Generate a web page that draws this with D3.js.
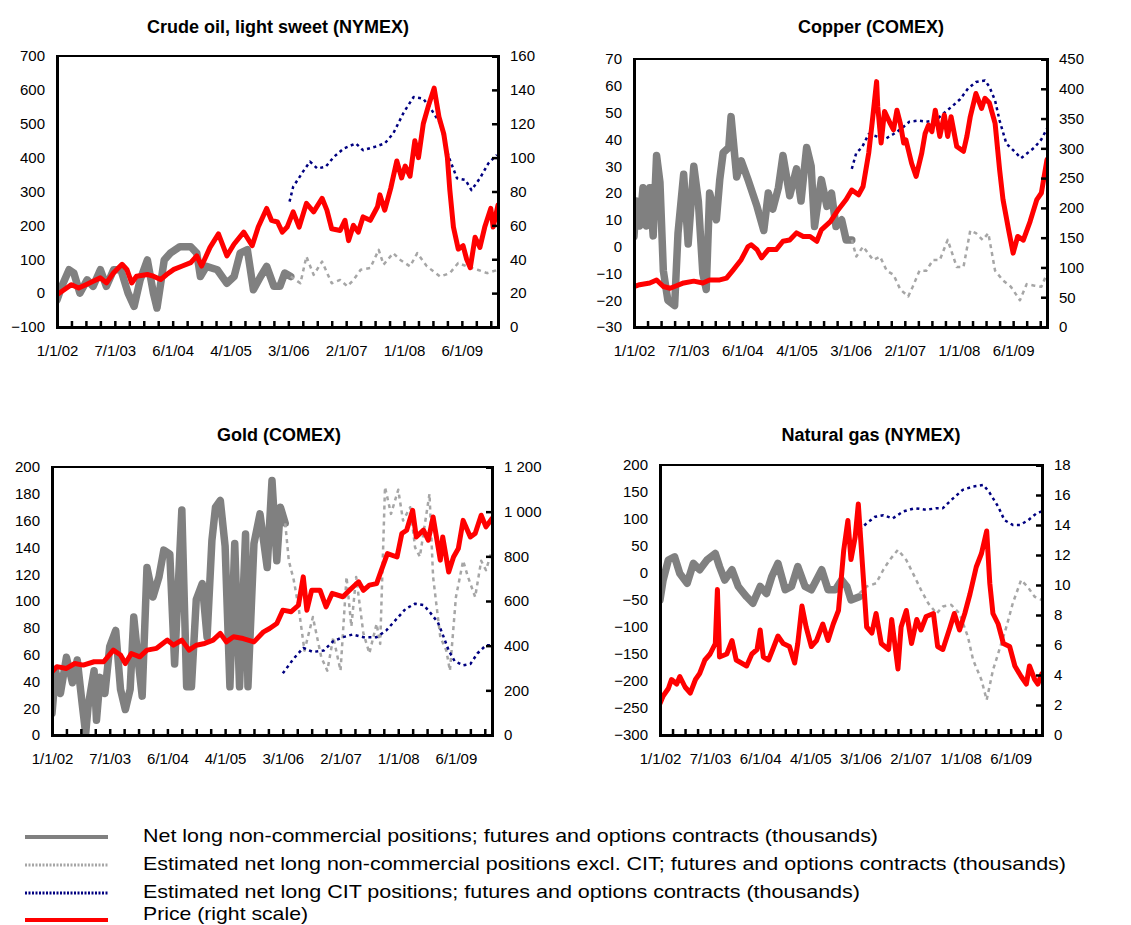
<!DOCTYPE html>
<html>
<head>
<meta charset="utf-8">
<script src="https://cdn.jsdelivr.net/npm/d3@7/dist/d3.min.js"></script>
<style>
  body { margin: 0; background: #fff; }
  text { font-family: "Liberation Sans", Arial, sans-serif; fill: #000; }
</style>
</head>
<body>
<svg id="chart" width="1131" height="925"></svg>
<script>
// Category axis: weekly observations, labelled every 48th observation
const dateLabels = ['1/1/02', '7/1/03', '6/1/04', '4/1/05', '3/1/06', '2/1/07', '1/1/08', '6/1/09'];
const obsCount = 366;

// Each series: [observation index, value]
// Crude oil, light sweet (NYMEX)
const crudeNet = [[0,-20],[4,20],[10,69],[14,59],[19,0],[25,39],[30,20],[36,69],[41,20],[47,69],[53,69],[59,0],[64,-39],[69,39],[75,98],[80,0],[83,-44],[89,98],[94,118],[102,137],[111,137],[116,118],[119,49],[124,79],[133,69],[141,29],[147,49],[152,118],[158,128],[163,10],[169,49],[174,79],[180,20],[185,20],[189,59],[194,49]];
const crudeExcl = [[194,49],[202,29],[207,108],[213,54],[220,93],[228,29],[235,39],[241,20],[246,39],[252,69],[260,74],[267,128],[271,84],[279,118],[285,98],[293,79],[299,118],[307,79],[318,49],[326,59],[333,89],[340,79],[349,69],[357,59],[366,69]];
const crudeCit = [[193,270],[196,314],[205,363],[210,388],[216,368],[223,373],[230,403],[238,427],[248,442],[254,422],[264,432],[272,442],[279,471],[288,535],[296,579],[304,574],[311,540],[318,501],[325,403],[332,339],[339,334],[344,304],[351,339],[358,383],[365,408]];
const crudePrice = [[0,19],[8,23],[12,25],[18,23],[24,25],[30,27],[36,29],[41,26],[47,32],[54,37],[58,34],[62,26],[66,30],[75,31],[80,30],[86,28],[91,31],[97,34],[104,36],[111,38],[116,42],[120,36],[127,47],[134,55],[141,42],[147,49],[155,56],[162,48],[167,59],[174,70],[178,63],[183,62],[187,56],[191,59],[196,68],[201,59],[207,73],[213,68],[220,76],[224,69],[228,58],[235,57],[239,63],[242,51],[246,60],[250,56],[254,65],[260,63],[266,71],[268,78],[272,69],[277,82],[282,98],[286,88],[289,95],[293,89],[297,110],[300,100],[304,120],[308,130],[313,141],[317,124],[321,114],[324,100],[326,81],[329,59],[333,46],[337,48],[340,40],[343,35],[347,53],[351,47],[355,59],[360,70],[362,59],[366,72]];

// Copper (COMEX)
const copperNet = [[0,3.8],[2,17],[5,7.7],[8,22],[11,7.7],[14,22],[17,4],[20,34],[23,24],[26,-9],[30,-20],[36,-22],[39,5],[44,27],[48,1],[53,30],[57,17],[61,-10],[64,-16],[67,20],[73,10],[76,25],[79,35],[84,37],[86,48.5],[91,26],[95,32],[101,25],[109,15],[115,6],[119,20],[123,14],[128,22],[132,34],[138,19],[144,29],[148,17],[153,37],[157,30],[160,7.5],[166,25],[171,15],[175,20],[179,7.5],[184,10],[188,2.5],[193,2.5]];
const copperExcl = [[193,2.5],[197,-3.7],[203,0],[212,-5],[218,-3.7],[224,-9],[230,-10.5],[236,-16],[243,-18.6],[247,-15],[253,-9],[259,-9],[265,-5],[271,-5],[278,2.5],[286,-7.6],[292,-7.6],[298,6],[303,5],[309,2.5],[314,5],[320,-9],[327,-12.6],[334,-15],[342,-20],[348,-14],[355,-14.6],[361,-15],[366,-10]];
const copperCit = [[193,29],[197,35],[202,37],[208,42],[216,41],[222,40],[230,42],[237,44],[244,46.6],[252,47],[259,46.6],[267,47],[274,49.6],[281,52],[289,55],[296,59],[303,61.4],[311,62],[315,59.6],[320,54.5],[324,47],[330,38.4],[336,36],[343,33],[349,35],[355,37],[361,40],[366,44]];
const copperPrice = [[0,68],[5,71],[14,74],[20,79],[26,68],[32,65],[36,68],[44,74],[53,77],[61,74],[67,79],[76,79],[82,82],[88,96],[95,113],[101,135],[104,138],[109,130],[113,116],[119,130],[126,130],[132,144],[138,146],[144,158],[150,152],[156,152],[162,144],[166,163],[174,177],[181,197],[188,214],[193,230],[199,222],[203,236],[208,292],[211,342],[215,412],[216,370],[219,309],[222,362],[227,342],[230,331],[233,364],[236,342],[239,309],[241,314],[246,275],[250,253],[255,292],[258,325],[261,339],[264,328],[267,364],[271,320],[275,356],[278,320],[281,353],[286,303],[292,295],[295,320],[298,353],[303,392],[308,367],[311,384],[315,376],[320,342],[324,264],[327,214],[332,163],[336,124],[340,152],[345,146],[351,177],[357,214],[361,225],[366,281]];

// Gold (COMEX)
const goldNet = [[0,16],[3,48],[7,31],[12,58],[17,39],[21,56],[25,24],[28,1],[30,21],[35,48],[37,11],[40,43],[44,31],[48,66],[53,78],[57,34],[61,19],[65,34],[68,88],[72,53],[75,29],[79,125],[84,103],[89,118],[93,138],[98,135],[102,53],[108,168],[112,36],[116,36],[120,101],[125,113],[129,73],[133,145],[136,170],[140,175],[144,141],[148,36],[152,143],[156,36],[161,150],[163,36],[168,143],[173,165],[179,125],[183,190],[187,130],[190,170],[194,158]];
const goldExcl = [[194,158],[197,130],[201,116],[205,96],[210,63],[217,88],[224,58],[229,48],[234,73],[240,48],[245,118],[249,81],[253,118],[259,76],[264,61],[270,83],[273,68],[277,185],[282,165],[288,183],[292,160],[298,170],[302,140],[306,133],[314,180],[317,118],[323,73],[328,63],[331,48],[336,103],[342,130],[346,118],[352,103],[357,130],[361,123],[366,138]];
const goldCit = [[192,46],[201,57],[209,65],[217,62],[226,63],[234,70],[242,73],[250,75],[259,73],[270,73],[278,78],[287,87],[294,94],[302,98],[309,97],[314,92],[321,84],[325,75],[330,63],[335,55],[342,52],[348,53],[354,61],[361,67],[366,67]];
const goldPrice = [[0,283],[4,306],[12,298],[19,320],[26,313],[35,328],[43,328],[51,380],[57,358],[61,320],[66,365],[73,350],[79,380],[87,388],[96,425],[101,402],[108,425],[114,380],[120,402],[127,410],[134,425],[140,455],[145,417],[151,440],[159,432],[168,417],[176,462],[181,477],[187,499],[192,559],[199,552],[205,581],[209,708],[212,559],[216,648],[223,648],[228,574],[233,634],[242,619],[249,656],[255,686],[259,648],[264,671],[270,678],[274,738],[279,812],[287,797],[291,902],[295,917],[300,1006],[303,887],[309,917],[313,872],[317,976],[323,783],[325,887],[330,730],[334,797],[338,835],[342,961],[348,887],[352,902],[357,984],[361,932],[366,969]];

// Natural gas (NYMEX)
const gasNet = [[0,-50],[3,-13],[8,24],[14,30],[19,-1],[26,-19],[32,18],[38,6],[45,24],[53,36],[57,12],[62,-13],[69,6],[75,-25],[83,-44],[89,-56],[96,-25],[102,-38],[107,-7],[113,18],[120,-31],[126,-25],[132,12],[139,-25],[145,-31],[155,6],[161,-31],[168,-31],[174,-13],[179,-25],[183,-50],[191,-44]];
const gasExcl = [[191,-38],[198,-25],[207,-19],[214,6],[220,24],[228,43],[236,24],[244,-7],[250,-31],[257,-56],[265,-75],[271,-62],[279,-59],[287,-75],[295,-118],[300,-161],[308,-198],[313,-235],[319,-180],[325,-143],[332,-99],[338,-56],[346,-13],[352,-25],[359,-44],[366,-50]];
const gasCit = [[191,80],[198,92],[206,104],[214,107],[223,101],[233,114],[244,120],[255,117],[265,120],[271,120],[279,135],[290,154],[300,160],[310,163],[316,148],[324,123],[330,98],[338,89],[345,89],[353,98],[361,111],[366,114]];
const gasPrice = [[0,2.1],[3,2.6],[8,3.1],[11,3.7],[16,3.4],[19,3.9],[24,3.2],[29,2.8],[34,3.7],[38,4.1],[43,5.0],[48,5.4],[53,6.1],[55,9.7],[57,5.2],[64,5.4],[69,6.3],[73,5.0],[78,4.8],[83,4.6],[88,5.4],[93,5.7],[96,7.0],[99,5.2],[104,5.0],[108,5.7],[113,6.6],[118,6.1],[124,5.9],[129,4.8],[132,6.1],[136,8.6],[140,7.2],[145,5.9],[150,6.3],[156,7.4],[161,6.3],[166,7.4],[171,8.3],[176,12.3],[180,14.3],[183,11.7],[187,13.2],[190,15.4],[195,10.3],[198,7.2],[203,6.8],[207,8.1],[212,6.1],[219,5.7],[222,7.7],[228,4.4],[231,7.2],[236,8.3],[241,6.1],[246,7.7],[250,7.0],[255,7.9],[262,8.1],[266,5.9],[271,5.7],[278,7.2],[282,8.1],[287,7.0],[292,8.1],[297,9.4],[303,11.2],[308,12.1],[313,13.6],[316,10.1],[319,8.1],[324,7.4],[329,6.1],[335,5.9],[340,4.6],[346,3.9],[351,3.4],[354,4.6],[359,3.7],[362,3.4],[366,4.1]];

const legendLabels = [
  'Net long non-commercial positions; futures and options contracts (thousands)',
  'Estimated net long non-commercial positions excl. CIT; futures and options contracts (thousands)',
  'Estimated net long CIT positions; futures and options contracts (thousands)',
  'Price (right scale)'
];

// Line styles for the four series
const styles = {
  net:   { stroke: '#808080', width: 7.5, dash: null },
  excl:  { stroke: '#a6a6a6', width: 2.5, dash: '4,4' },
  cit:   { stroke: '#000080', width: 2.5, dash: '3,3.5' },
  price: { stroke: '#ff0000', width: 5,   dash: null }
};

const spaceThousands = v => {
  const s = String(v);
  return s.length > 3 ? s.slice(0, s.length - 3) + '\u00a0' + s.slice(-3) : s;
};

const panels = [
  { title: 'Crude oil, light sweet (NYMEX)', series: { net: crudeNet, excl: crudeExcl, cit: crudeCit, price: crudePrice },
    leftTicks: d3.range(-100, 701, 100), rightTicks: d3.range(0, 161, 20),
    box: { x: 57, y: 56, w: 441, h: 271 }, titlePos: [278, 33], rightFmt: d => d },
  { title: 'Copper (COMEX)', series: { net: copperNet, excl: copperExcl, cit: copperCit, price: copperPrice },
    leftTicks: d3.range(-30, 71, 10), rightTicks: d3.range(0, 451, 50),
    box: { x: 634, y: 59, w: 413, h: 268 }, titlePos: [871, 33], rightFmt: d => d },
  { title: 'Gold (COMEX)', series: { net: goldNet, excl: goldExcl, cit: goldCit, price: goldPrice },
    leftTicks: d3.range(0, 201, 20), rightTicks: d3.range(0, 1201, 200),
    box: { x: 52, y: 467, w: 440, h: 268 }, titlePos: [279, 441], rightFmt: spaceThousands },
  { title: 'Natural gas (NYMEX)', series: { net: gasNet, excl: gasExcl, cit: gasCit, price: gasPrice },
    leftTicks: d3.range(-300, 201, 50), rightTicks: d3.range(0, 19, 2),
    box: { x: 660, y: 465, w: 382, h: 270 }, titlePos: [871, 441], rightFmt: d => d }
];

const svg = d3.select('#chart');

panels.forEach(p => {
  const b = p.box;
  const g = svg.append('g').attr('transform', `translate(${b.x},${b.y})`);

  const x = d3.scaleLinear().domain([0, obsCount]).range([0, b.w]);
  const yL = d3.scaleLinear().domain(d3.extent(p.leftTicks)).range([b.h, 0]);
  const yR = d3.scaleLinear().domain(d3.extent(p.rightTicks)).range([b.h, 0]);

  svg.append('text')
    .attr('x', p.titlePos[0]).attr('y', p.titlePos[1])
    .attr('text-anchor', 'middle')
    .style('font-size', '18px').style('font-weight', 'bold')
    .text(p.title);

  // Clip series to the plot frame
  const clipId = 'clip' + b.x + '_' + b.y;
  g.append('clipPath').attr('id', clipId)
    .append('rect').attr('width', b.w).attr('height', b.h);
  const plot = g.append('g').attr('clip-path', `url(#${clipId})`);

  const lineL = d3.line().x(d => x(d[0])).y(d => yL(d[1]));
  const lineR = d3.line().x(d => x(d[0])).y(d => yR(d[1]));

  ['net', 'excl', 'cit', 'price'].forEach(k => {
    const s = styles[k];
    plot.append('path')
      .datum(p.series[k])
      .attr('d', k === 'price' ? lineR : lineL)
      .attr('fill', 'none')
      .attr('stroke', s.stroke)
      .attr('stroke-width', s.width)
      .attr('stroke-dasharray', s.dash)
      .attr('stroke-linejoin', 'round')
      .attr('stroke-linecap', s.dash ? 'butt' : 'round');
  });

  // Frame
  g.append('rect').attr('width', b.w).attr('height', b.h)
    .attr('fill', 'none').attr('stroke', '#000').attr('stroke-width', 2);

  // Axes
  const xAxis = d3.axisBottom(x)
    .tickValues(d3.range(0, 361, 12))
    .tickSize(-6).tickPadding(18)
    .tickFormat(d => d % 48 === 0 ? dateLabels[d / 48] : '');
  const gx = g.append('g').attr('transform', `translate(0,${b.h})`).call(xAxis);

  const gl = g.append('g').call(d3.axisLeft(yL).tickValues(p.leftTicks).tickSize(0).tickPadding(12));
  const gr = g.append('g').attr('transform', `translate(${b.w},0)`)
    .call(d3.axisRight(yR).tickValues(p.rightTicks).tickSize(-6).tickPadding(12).tickFormat(p.rightFmt));

  [gx, gl, gr].forEach(a => {
    a.select('.domain').attr('stroke', '#000').attr('stroke-width', 3);
    a.selectAll('.tick line').attr('stroke', '#000').attr('stroke-width', 2.5);
    a.selectAll('.tick text').style('font-size', '15px').style('font-family', '"Liberation Sans", Arial, sans-serif').attr('fill', '#000');
  });
});

// Legend
const legendLines = [837, 865, 893, 920];
const legendBaselines = [842, 870, 898, 920];
const legendWidths = [735, 923, 717, 165];
const legendKeys = ['net', 'excl', 'cit', 'price'];
const legendStyle = {
  net:   { stroke: '#808080', width: 4, dash: null },
  excl:  { stroke: '#a6a6a6', width: 3, dash: '2,1.5' },
  cit:   { stroke: '#000080', width: 3, dash: '2,1.5' },
  price: { stroke: '#ff0000', width: 4, dash: null }
};
const lg = svg.append('g');
legendKeys.forEach((k, i) => {
  const s = legendStyle[k];
  lg.append('line')
    .attr('x1', 25).attr('x2', 108)
    .attr('y1', legendLines[i]).attr('y2', legendLines[i])
    .attr('stroke', s.stroke).attr('stroke-width', s.width)
    .attr('stroke-dasharray', s.dash);
  lg.append('text')
    .attr('x', 143).attr('y', legendBaselines[i])
    .attr('textLength', legendWidths[i])
    .attr('lengthAdjust', 'spacingAndGlyphs')
    .style('font-size', '18.5px')
    .text(legendLabels[i]);
});
</script>
</body>
</html>
